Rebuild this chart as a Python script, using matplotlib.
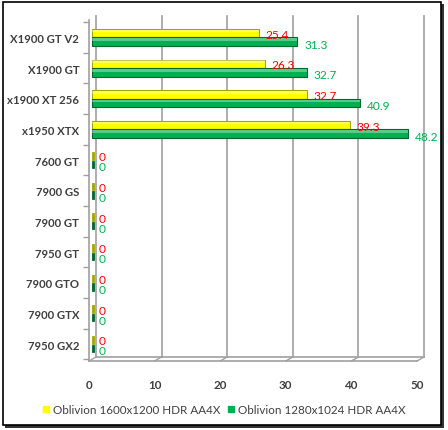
import numpy as np
import matplotlib.pyplot as plt
from matplotlib.patches import Rectangle
from matplotlib.lines import Line2D
import matplotlib.transforms as mtransforms

# data
categories = ['X1900 GT V2', 'X1900 GT', 'x1900 XT 256', 'x1950 XTX',
              '7600 GT', '7900 GS', '7900 GT', '7950 GT', '7900 GTO',
              '7900 GTX', '7950 GX2']
oblivion_1600 = [25.4, 26.3, 32.7, 39.3, 0, 0, 0, 0, 0, 0, 0]
oblivion_1280 = [31.3, 32.7, 40.9, 48.2, 0, 0, 0, 0, 0, 0, 0]
series_names = ['Oblivion 1600x1200 HDR AA4X', 'Oblivion 1280x1024 HDR AA4X']
x_ticks = [0, 10, 20, 30, 40, 50]

plt.rcParams['font.family'] = ['Lato', 'DejaVu Sans']

W, H = 448, 431
fig = plt.figure(figsize=(W / 100, H / 100), dpi=100)

# chart frame with shadow (behind everything)
fig.patches.append(Rectangle((5 / W, 1 - 429 / H), 439 / W, 424 / H, transform=fig.transFigure,
                             facecolor='#333333', edgecolor='none', zorder=-3))
fig.patches.append(Rectangle((2.5 / W, 1 - 426 / H), 438.5 / W, 423.5 / H, transform=fig.transFigure,
                             facecolor='white', edgecolor='black', linewidth=1.2, zorder=-2))

ax = fig.add_axes([89 / W, 1 - 362 / H, (417 - 89) / W, (362 - 21) / H])

y = np.arange(len(categories))
bh = 0.28
shift = mtransforms.ScaledTranslation(3 / 100, 0, fig.dpi_scale_trans)
tr_bar = ax.transData + shift

yellow, yellow_dark = '#ffff00', '#a6a600'
green, green_dark = '#00b050', '#00662e'

for i in range(len(categories)):
    for val, off, fc, ec, tc, dy in [(oblivion_1600[i], -bh / 2, yellow, yellow_dark, '#ff0000', -1),
                                     (oblivion_1280[i], bh / 2, green, green_dark, '#00b050', -2.5)]:
        if val > 0:
            ax.add_patch(Rectangle((0, y[i] + off - bh / 2), val, bh, facecolor=fc,
                                   edgecolor=ec, linewidth=0.8, transform=tr_bar, zorder=3))
            # light highlight on top of the cylinder
            ax.add_patch(Rectangle((0, y[i] + off - bh / 2 + 0.03), val, bh * 0.3,
                                   facecolor='white', alpha=0.35, linewidth=0,
                                   transform=tr_bar, zorder=4))
        else:
            ax.add_patch(Rectangle((0, y[i] + off - bh / 2 + 0.02), 0.25, bh - 0.04,
                                   facecolor=ec, edgecolor=ec, linewidth=0.6,
                                   transform=tr_bar, zorder=3))
        ax.annotate(f'{val:g}', xy=(val, y[i] + off), xytext=(10, dy),
                    textcoords='offset pixels', ha='left', va='center',
                    color=tc, fontsize=8.6, zorder=5)

ax.set_xlim(0, 50)
ax.set_ylim(len(categories) - 0.45, -0.57)

# back wall grid lines, shifted for the 3D look
grid_tr = ax.transData + mtransforms.ScaledTranslation(7 / 100, 4 / 100, fig.dpi_scale_trans)
for xv in x_ticks:
    ax.plot([xv, xv], [len(categories) - 0.45, -0.57], color='#a0a0a0', lw=1.2,
            transform=grid_tr, clip_on=False, zorder=1)
    ax.plot([xv, xv + 7 / 6.56], [len(categories) - 0.45, len(categories) - 0.45 - 4 / 30.6],
            color='#a0a0a0', lw=1, clip_on=False, zorder=1)
ax.plot([0, 50], [len(categories) - 0.45, len(categories) - 0.45], color='#a0a0a0', lw=1.2,
        transform=grid_tr, clip_on=False, zorder=1)

for s in ['top', 'right', 'bottom']:
    ax.spines[s].set_visible(False)
ax.spines['left'].set_color('#a0a0a0')
ax.spines['left'].set_linewidth(1.2)
ax.plot([0, 50], [len(categories) - 0.45] * 2, color='#a0a0a0', lw=1.2, clip_on=False, zorder=2)

ax.set_yticks(np.arange(len(categories) + 1) - 0.5, minor=True)
ax.set_yticks(y)
ax.set_yticklabels(categories, fontsize=8.2, fontweight='bold', color='#404040')
ax.tick_params(axis='y', which='major', length=0, pad=7)
ax.tick_params(axis='y', which='minor', length=4, color='#a0a0a0', width=1)
ax.set_xticks(x_ticks)
ax.set_xticklabels([str(t) for t in x_ticks], fontsize=8.4, fontweight='bold', color='#404040')
ax.tick_params(axis='x', length=0, pad=13)
ax.patch.set_visible(False)

handles = [Line2D([], [], marker='s', linestyle='none', markersize=5,
                  markerfacecolor=c, markeredgecolor=c) for c in [yellow, green]]
fig.legend(handles, series_names, loc='center', bbox_to_anchor=(0.5, 1 - 411 / H), ncol=2,
           frameon=False, fontsize=8.4, handlelength=0.6, handletextpad=0.3, columnspacing=0.6,
           labelcolor='#404040')

fig.savefig('out.png', dpi=100)
